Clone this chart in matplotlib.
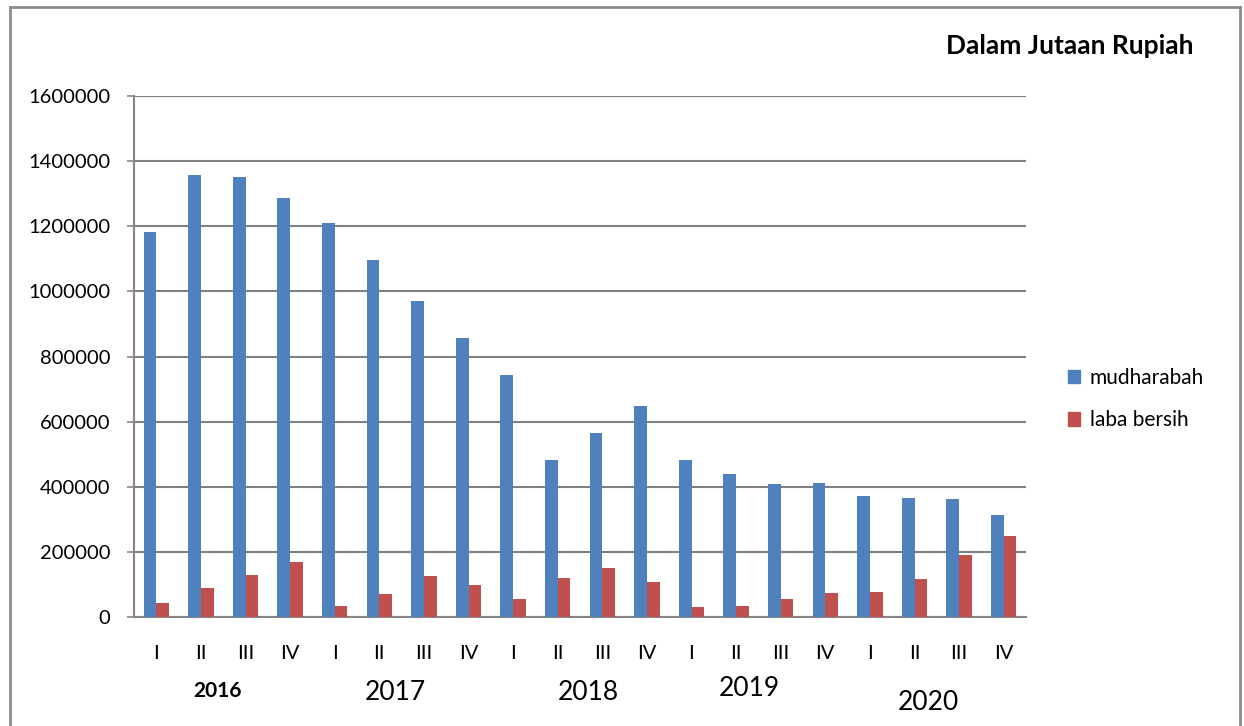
import matplotlib
matplotlib.use("Agg")
import matplotlib.pyplot as plt
from matplotlib.lines import Line2D
from matplotlib.patches import Patch
import numpy as np

plt.rcParams['font.family'] = ['Lato', 'DejaVu Sans']

quarters = ["I", "II", "III", "IV"] * 5
years = ["2016", "2017", "2018", "2019", "2020"]
mudharabah = [1183000, 1356000, 1350000, 1286000, 1209000, 1095000, 969000, 857000,
              742000, 483000, 565000, 647000, 483000, 439000, 408000, 413000,
              373000, 366000, 363000, 314000]
laba_bersih = [43000, 90000, 130000, 170000, 34000, 71000, 127000, 99000,
               54000, 119000, 150000, 106000, 30000, 34000, 55000, 73000,
               76000, 116000, 189000, 248000]
yticks = [0, 200000, 400000, 600000, 800000, 1000000, 1200000, 1400000, 1600000]

W, H = 1244, 726
fig = plt.figure(figsize=(W / 100, H / 100), dpi=100)
ax = fig.add_axes([134 / W, 1 - 617 / H, (1026 - 134) / W, (617 - 96) / H])

x = np.arange(len(quarters))
bw = 1 / 3.5
ax.bar(x - bw / 2, mudharabah, bw, color="#4F81BD", label="mudharabah", zorder=3)
ax.bar(x + bw / 2, laba_bersih, bw, color="#C0504D", label="laba bersih", zorder=3)

ax.set_xlim(-0.5, len(quarters) - 0.5)
ax.set_ylim(0, 1600000)
ax.set_yticks(yticks)
ax.set_yticklabels([str(v) for v in yticks], fontsize=14.5)
ax.set_xticks(x)
ax.set_xticklabels(quarters, fontsize=14.5)
ax.tick_params(axis="x", length=0, pad=20)
ax.tick_params(axis="y", length=5, width=1.2, color="#868686", pad=12)
ax.grid(axis="y", color="#808080", linewidth=1.5, zorder=0)
for s in ["top", "right"]:
    ax.spines[s].set_visible(False)
for s in ["left", "bottom"]:
    ax.spines[s].set_color("#868686")
    ax.spines[s].set_linewidth(1.5)

# year labels
year_pos = [(217, 691, 15, "bold"), (395, 693, 19, "normal"), (588, 692, 19, "normal"),
            (749, 688, 19, "normal"), (928, 703, 19, "normal")]
for yr, (px, py, fs, fw) in zip(years, year_pos):
    fig.text(px / W, 1 - py / H, yr, ha="center", va="center", fontsize=fs, fontweight=fw)

fig.text(1193 / W, 1 - 46 / H, "Dalam Jutaan Rupiah", ha="right", va="center",
         fontsize=19, fontweight="bold")

handles = [Patch(color="#4F81BD"), Patch(color="#C0504D")]
fig.legend(handles, ["mudharabah", "laba bersih"], loc="center left",
           bbox_to_anchor=(1049 / W, 1 - 399 / H), frameon=False, fontsize=15,
           handlelength=0.6, handleheight=0.6, handletextpad=0.45, labelspacing=1.1)

# chart border
bc = "#8c8c8c"
fig.add_artist(Line2D([10 / W, 10 / W], [0, 1 - 7 / H], color=bc, lw=2, transform=fig.transFigure))
fig.add_artist(Line2D([10 / W, 1240 / W], [1 - 7 / H, 1 - 7 / H], color=bc, lw=2, transform=fig.transFigure))
fig.add_artist(Line2D([1240 / W, 1240 / W], [0, 1 - 7 / H], color=bc, lw=2, transform=fig.transFigure))

fig.savefig("out.png", dpi=100)
